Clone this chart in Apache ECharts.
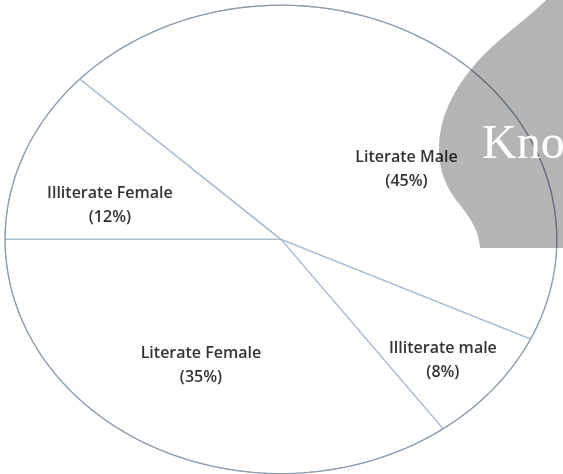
<!DOCTYPE html>
<html>
<head>
<meta charset="utf-8">
<style>
  html, body { margin: 0; padding: 0; background: #ffffff; }
  #chart { width: 563px; height: 474px; }
</style>
<script src="https://cdn.jsdelivr.net/npm/echarts@6/dist/echarts.min.js"></script>
</head>
<body>
<div id="chart"></div>
<script>
// Literacy split by sex (share of population, %)
const categories = ['Illiterate Female', 'Literate Male', 'Illiterate male', 'Literate Female'];
const shares = [12, 45, 8, 35];

// Where each label block sits, relative to the ellipse (x / rx, y / ry from its centre)
const labelSpots = [[-0.62, -0.145], [0.455, -0.30], [0.587, 0.515], [-0.29, 0.54]];

const total = shares.reduce((a, b) => a + b, 0);
const startDeg = 180;          // first slice starts at the left, runs clockwise
const starts = [];
let acc = 0;
shares.forEach(v => { starts.push(acc); acc += v; });

function ellipseGeom(api) {
  const w = api.getWidth(), h = api.getHeight();
  return { cx: w * 0.499, cy: h * 0.505, rx: w * 0.49, ry: h * 0.494 };
}

function renderSlice(params, api) {
  const i = params.dataIndex;
  const g = ellipseGeom(api);
  const v = api.value(0);
  const t0 = startDeg - (starts[i] / total) * 360;
  const t1 = t0 - (v / total) * 360;
  const arc = [];
  const steps = Math.max(2, Math.ceil(Math.abs(t1 - t0) / 1.5));
  for (let k = 0; k <= steps; k++) {
    const t = (t0 + (t1 - t0) * k / steps) * Math.PI / 180;
    arc.push([g.cx + g.rx * Math.cos(t), g.cy - g.ry * Math.sin(t)]);
  }
  const poly = [[g.cx, g.cy]].concat(arc);
  const spot = labelSpots[i];
  return {
    type: 'group',
    children: [
      {
        type: 'polygon',
        shape: { points: poly },
        style: { fill: '#ffffff', stroke: '#a9bbd0', lineWidth: 1.3 }
      },
      {
        type: 'polyline',
        shape: { points: arc },
        style: { fill: null, stroke: '#8f9aa6', lineWidth: 1.1 }
      },
      {
        type: 'text',
        x: g.cx + spot[0] * g.rx,
        y: g.cy + spot[1] * g.ry,
        style: {
          text: categories[i] + '\n(' + Math.round(v / total * 100) + '%)',
          fill: '#333333',
          font: '600 16px "Open Sans"',
          align: 'center',
          verticalAlign: 'middle',
          lineHeight: 24
        }
      }
    ]
  };
}

// grey watermark tab on the right with its white lettering
function renderStamp() {
  return {
    type: 'group',
    children: [
      {
        type: 'path',
        shape: {
          pathData: 'M563 0 L546 0 C520 25 490 45 472 68 C452 92 440 118 439 145 C438 172 448 190 460 205 C472 220 479 232 480 248 L563 248 Z'
        },
        style: { fill: 'rgba(0,0,0,0.29)' }
      },
      {
        type: 'text',
        x: 482,
        y: 121,
        style: {
          text: 'Kno',
          fill: '#ffffff',
          font: '48px "Liberation Serif"',
          align: 'left',
          verticalAlign: 'top'
        }
      }
    ]
  };
}

const chart = echarts.init(document.getElementById('chart'), null, { renderer: 'canvas' });
chart.setOption({
  backgroundColor: '#ffffff',
  animation: false,
  series: [
    {
      type: 'custom',
      coordinateSystem: 'none',
      renderItem: renderSlice,
      data: shares.map((v, i) => ({ name: categories[i], value: [v] }))
    },
    {
      type: 'custom',
      coordinateSystem: 'none',
      z: 10,
      silent: true,
      renderItem: renderStamp,
      data: [[0]]
    }
  ]
});
</script>
</body>
</html>
